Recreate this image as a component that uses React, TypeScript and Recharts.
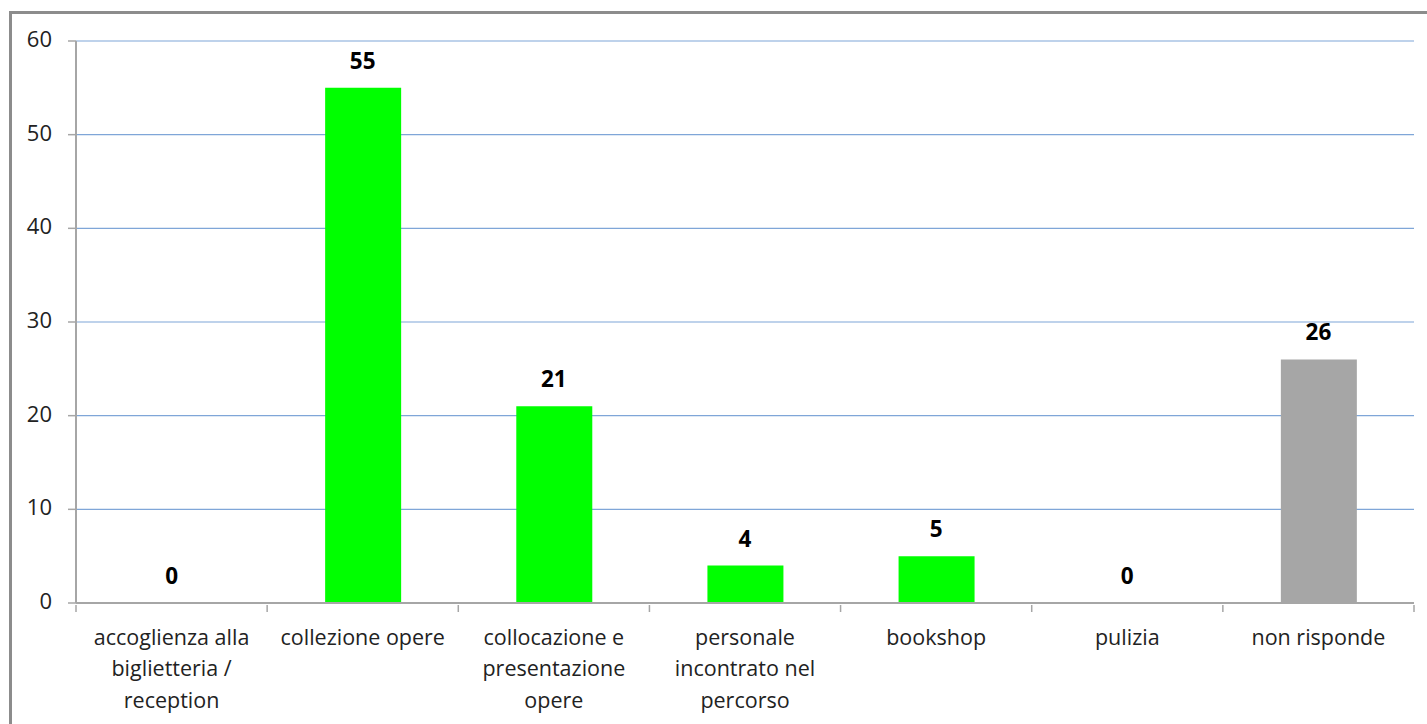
import React from "react";
import { ComposedChart, Bar, Line, XAxis, YAxis, CartesianGrid, LabelList, Cell } from "recharts";

const categories = [
  "accoglienza alla biglietteria / reception",
  "collezione opere",
  "collocazione e presentazione opere",
  "personale incontrato nel percorso",
  "bookshop",
  "pulizia",
  "non risponde",
];
const categoryLines = [
  ["accoglienza alla", "biglietteria /", "reception"],
  ["collezione opere"],
  ["collocazione e", "presentazione", "opere"],
  ["personale", "incontrato nel", "percorso"],
  ["bookshop"],
  ["pulizia"],
  ["non risponde"],
];
const values = [0, 55, 21, 4, 5, 0, 26];
const barColors = ["#00FF00", "#00FF00", "#00FF00", "#00FF00", "#00FF00", "#00FF00", "#A6A6A6"];
const yTicks = [0, 10, 20, 30, 40, 50, 60];

const data = categories.map((c, i) => ({ name: c, value: values[i], idx: i }));

const FONT = "'Open Sans', Lato, sans-serif";
const PLOT_LEFT = 76;
const PLOT_RIGHT = 1414;
const BAND = (PLOT_RIGHT - PLOT_LEFT) / categories.length;

const XTick = (props: any) => {
  const { x, y, payload, index } = props;
  const lines = categoryLines[index] || [payload.value];
  const left = x - BAND / 2;
  const right = x + BAND / 2;
  return (
    <g>
      <line x1={left} y1={y - 8} x2={left} y2={y - 1} stroke="#A6A6A6" strokeWidth={1.5} />
      {index === categories.length - 1 && (
        <line x1={right} y1={y - 8} x2={right} y2={y - 1} stroke="#A6A6A6" strokeWidth={1.5} />
      )}
      {lines.map((l: string, i: number) => (
        <text
          key={i}
          x={x}
          y={y + 26 + i * 31.5}
          textAnchor="middle"
          dominantBaseline="middle"
          fontFamily={FONT}
          fontSize={21.5}
          fill="#222"
        >
          {l}
        </text>
      ))}
    </g>
  );
};

const YTick = (props: any) => {
  const { x, y, payload } = props;
  return (
    <text x={x} y={y} textAnchor="end" dominantBaseline="middle" fontFamily={FONT} fontSize={22} fill="#222">
      {payload.value}
    </text>
  );
};

const ValueLabel = (props: any) => {
  const { x, y, value } = props;
  return (
    <text
      x={x}
      y={y - 25}
      textAnchor="middle"
      dominantBaseline="middle"
      fontFamily={FONT}
      fontSize={22.5}
      fontWeight="bold"
      fill="#000"
    >
      {value}
    </text>
  );
};

export default function App() {
  return (
    <div style={{ position: "fixed", left: 0, top: 0, width: 1427, height: 724, background: "#fff", overflow: "hidden" }}>
      <div
        style={{
          position: "absolute",
          left: 9,
          top: 11,
          width: 1430,
          height: 730,
          borderTop: "3px solid #8C8C8C",
          borderLeft: "3px solid #8C8C8C",
          boxSizing: "border-box",
        }}
      />
      <div style={{ position: "absolute", left: 0, top: 0 }}>
        <ComposedChart
          width={1427}
          height={724}
          data={data}
          margin={{ top: 41, right: 1427 - PLOT_RIGHT, bottom: 11, left: 10 }}
        >
          <CartesianGrid vertical={false} stroke="#7FA6D8" strokeWidth={1.2} />
          <XAxis
            dataKey="name"
            interval={0}
            height={110}
            tickLine={false}
            axisLine={{ stroke: "#A6A6A6", strokeWidth: 2 }}
            tick={<XTick />}
            tickSize={8}
          />
          <YAxis
            width={66}
            domain={[0, 60]}
            ticks={yTicks}
            interval={0}
            tickSize={8}
            tickMargin={16}
            tickLine={{ stroke: "#A6A6A6", strokeWidth: 1.5 }}
            axisLine={{ stroke: "#A6A6A6", strokeWidth: 2 }}
            tick={<YTick />}
          />
          <Bar dataKey="value" barSize={76} isAnimationActive={false}>
            {data.map((d, i) => (
              <Cell key={i} fill={barColors[i]} />
            ))}
          </Bar>
          <Line
            dataKey="value"
            stroke="none"
            dot={false}
            activeDot={false}
            legendType="none"
            isAnimationActive={false}
          >
            <LabelList dataKey="value" content={<ValueLabel />} />
          </Line>
        </ComposedChart>
      </div>
    </div>
  );
}
